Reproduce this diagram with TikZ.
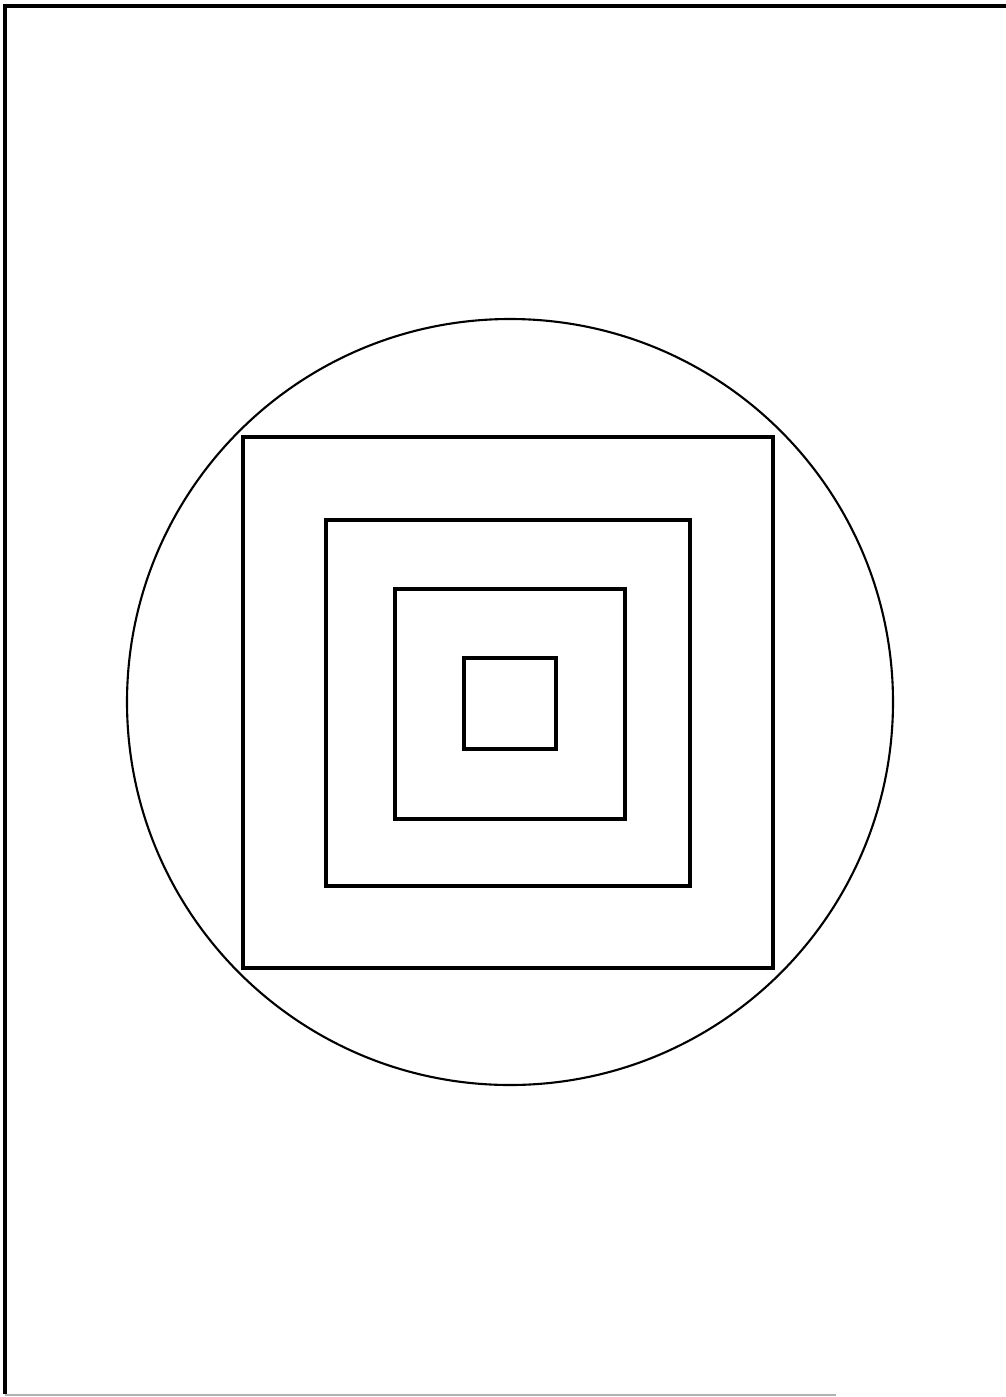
\documentclass[tikz,border=0pt]{standalone}
\usepackage{tikz}

\begin{document}
\begin{tikzpicture}[x=0.02cm,y=-0.02cm,
  frame/.style={line width=2.1pt,black},
  ring/.style={line width=1.2pt,black}]
\useasboundingbox (0,0) rectangle (1006,1397);

% page edge
\draw[line width=2pt] (5,1394) -- (5,6) -- (1006,6);
\draw[line width=1pt,black!30] (5,1395) -- (836,1395);

\draw[ring] (510,702) circle (383);

\draw[frame] (243,437) rectangle (773,968);
\draw[frame] (326,520) rectangle (690,886);
\draw[frame] (395,589) rectangle (625,819);
\draw[frame] (464,658) rectangle (556,749);
\end{tikzpicture}
\end{document}
